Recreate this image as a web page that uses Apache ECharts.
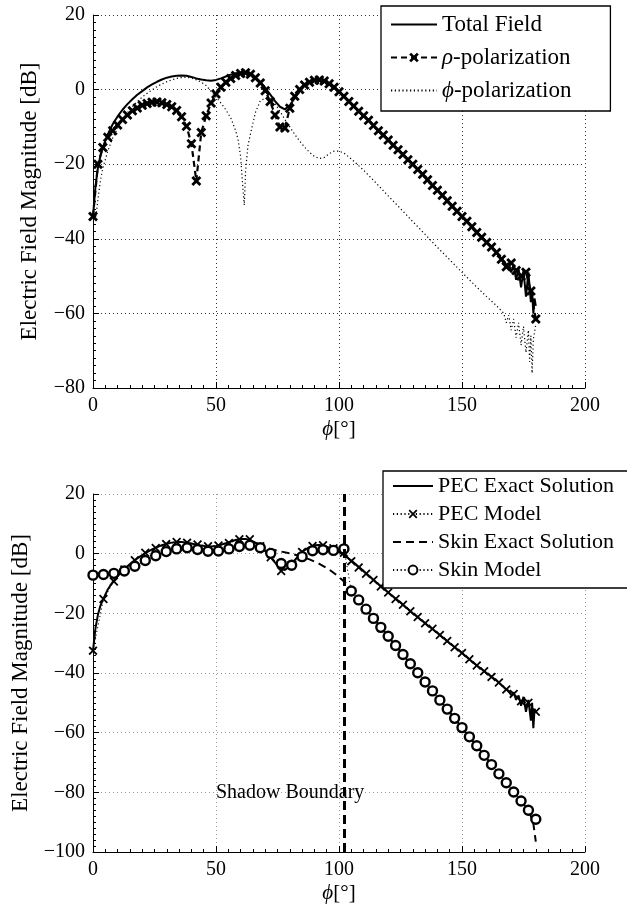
<!DOCTYPE html>
<html><head><meta charset="utf-8">
<script src="https://cdn.jsdelivr.net/npm/echarts@6/dist/echarts.min.js"></script>
<style>html,body{margin:0;padding:0;background:#fff}#c{width:627px;height:911px}</style>
</head><body><div id="c"></div>
<script>
// ---------- tick definitions ----------
const xTicks = [0, 50, 100, 150, 200];
const yTicksTop = [-80, -60, -40, -20, 0, 20];
const yTicksBottom = [-100, -80, -60, -40, -20, 0, 20];

// ---------- top chart: Total Field ----------
const totPhi = [0,1,2,3,4,6,8,10,12,14,16,18,20,22,24,26,28,30,32,34,36,38,40,42,44,46,48,50,52,54,56,58,60,62,64,66,68,70,72,74,76,78,80,82,84,86,88,90,92,94,96,98,100,105,110,115,120,125,130,135,140,145,150,155,158,160,163,165,167,168,169,170,171,172,173,174,175,176,177,177.5,178,178.5,179,179.5,180];
const totDb = [-34,-26,-21,-17.8,-15.5,-12,-9.3,-7.2,-5.4,-3.9,-2.6,-1.4,-0.4,0.6,1.4,2.1,2.7,3.2,3.5,3.7,3.8,3.7,3.4,3.0,2.7,2.5,2.4,2.6,3.0,3.5,4.0,4.4,4.6,4.5,4.1,3.3,2.1,0.5,-1.3,-3.1,-4.6,-5.3,-4.2,-2.3,-0.5,1.0,2.0,2.6,2.7,2.4,1.7,0.6,-0.6,-3.8,-7,-10.2,-13.5,-16.9,-20,-23.6,-27,-30.4,-34,-37.4,-39.5,-41,-43,-44.5,-46,-47,-46.5,-49,-47,-51,-48,-53,-48.5,-55.5,-49,-48.5,-57,-54,-60,-56,-58];

// ---------- top chart: rho-polarization ----------
const rhoPhi = [0,2,4,6,8,10,12,14,16,18,20,22,24,26,28,30,32,34,36,38,40,42,44,46,48,50,52,54,56,58,60,62,64,66,68,70,72,74,76,78,80,82,84,86,88,90,92,94,96,98,100,102,104,106,108,110,112,114,116,118,120,122,124,126,128,130,132,134,136,138,140,142,144,146,148,150,152,154,156,158,160,162,164,166,168,170,172,174,176,178,180];
const rhoDb = [-34,-20,-15.5,-12.8,-11,-9.5,-8,-6.8,-5.7,-4.9,-4.2,-3.7,-3.4,-3.3,-3.5,-4,-4.6,-5.6,-7.3,-9.8,-14.5,-24.5,-11.5,-7,-3.6,-1.2,0.6,2.0,3.0,3.8,4.3,4.5,4.1,3.2,1.8,-0.3,-3.2,-6.8,-10,-10.3,-5,-1.8,0,1.2,2.0,2.5,2.6,2.3,1.6,0.6,-0.6,-1.8,-3.2,-4.4,-5.8,-7,-8.2,-9.6,-11,-12.2,-13.5,-14.9,-16.1,-17.4,-18.8,-20,-21.4,-22.7,-24.2,-25.7,-27,-28.3,-29.8,-31.3,-32.6,-34,-35.3,-36.8,-38.3,-39.6,-41,-42.2,-43.7,-45.5,-47.5,-46.5,-48.5,-50,-49,-54,-61.5];

// ---------- top chart: phi-polarization ----------
const phPhi = [1,2,3,4,6,8,10,12,14,16,18,20,22,24,26,28,30,32,34,36,38,40,42,44,46,48,50,52,54,56,58,59,60,61,61.5,62,63,64,66,68,70,72,74,76,78,80,82,84,86,88,90,92,94,96,98,100,102,105,110,115,120,125,130,135,140,145,150,155,160,163,165,167,168,169,170,171,172,173,174,175,176,177,177.5,178,178.5,179,180];
const phDb = [-35,-29.5,-24.5,-21,-16.5,-13,-10.3,-8,-6.2,-4.6,-3.2,-2.0,-1.0,-0.1,0.8,1.5,2.1,2.6,3.0,3.2,3.3,3.1,2.6,2.0,1.1,-0.5,-2.0,-3.6,-5.4,-7.6,-11,-13.5,-18,-27,-31,-22,-15,-11.9,-6.2,-3.0,-2.3,-2.4,-3.8,-5.8,-8,-10,-12,-13.8,-15.4,-16.8,-17.9,-18.5,-18.2,-17.2,-16.5,-16.5,-17,-18.6,-21.6,-25,-28.5,-31.9,-35.4,-38.8,-42.3,-45.6,-49,-52.3,-55.5,-57.3,-58.6,-60,-62.5,-60.5,-64.5,-61.5,-66.5,-62.5,-68.5,-63.5,-70.5,-64.5,-73,-66,-76,-67,-63];

// ---------- bottom chart: PEC Exact Solution ----------
const pecPhi = [0,1,2,3,4,6,8,10,12,14,16,18,20,22,24,26,28,30,32,34,36,38,40,42,44,46,48,50,52,54,56,58,60,62,64,66,68,70,72,74,76,78,80,82,84,86,88,90,92,94,96,98,100,102,104,106,108,110,115,120,125,130,135,140,145,150,155,160,164,166,168,169,170,171,172,173,174,175,176,177,178,178.5,179,179.5,180];
const pecDb = [-32.5,-25,-20.5,-17.5,-15.5,-12,-9.5,-7.5,-5.7,-4.2,-2.8,-1.6,-0.5,0.5,1.4,2.2,2.8,3.3,3.7,3.9,3.9,3.7,3.4,3.0,2.7,2.5,2.4,2.6,3.0,3.5,4.1,4.6,4.9,4.9,4.5,3.7,2.5,0.9,-1.0,-3.0,-4.8,-5.5,-4.2,-2.2,-0.3,1.2,2.2,2.8,2.9,2.6,2.0,1.3,0.5,-0.5,-1.7,-3.0,-4.4,-5.8,-9.5,-13,-16.4,-20,-23.3,-26.6,-30,-33.3,-36.8,-40,-42.5,-44,-45.5,-46,-47.5,-46.5,-49,-47.5,-51,-48,-53,-49,-56,-50,-58.5,-52,-53];

// ---------- bottom chart: model sample points (PEC Model and Skin Model) ----------
const modelPhi = [0,4.25,8.5,12.75,17,21.25,25.5,29.75,34,38.25,42.5,46.75,51,55.25,59.5,63.75,68,72.25,76.5,80.75,85,89.25,93.5,97.75,102,105,108,111,114,117,120,123,126,129,132,135,138,141,144,147,150,153,156,159,162,165,168,171,174,177,180];
const pecModelDb = [-32.5,-15.2,-9.3,-5.3,-2.2,0.3,1.9,3.2,3.9,3.7,3.1,2.5,2.7,3.6,4.8,4.8,2.5,-1.2,-5.8,-3.8,0.6,2.6,2.8,1.8,0.3,-2.5,-4.6,-6.7,-8.8,-11,-13,-15.2,-17.1,-19.3,-21.2,-23.3,-25.2,-27.3,-29.3,-31.4,-33.3,-35.4,-37.5,-39.4,-41.3,-43.2,-45.5,-47,-49.5,-50,-53];
const skinModelDb = [-7.2,-7.0,-6.6,-5.8,-4.2,-2.3,-0.7,0.7,1.6,2.0,1.4,0.8,0.9,1.6,2.4,2.8,2.0,0.1,-3.3,-3.9,-1.0,1.0,1.3,1.1,1.6,-12.5,-15.5,-18.6,-21.7,-24.7,-27.7,-30.8,-33.8,-36.9,-39.9,-43,-46,-49.1,-52.1,-55.2,-58.3,-61.4,-64.4,-67.6,-70.7,-73.8,-76.8,-79.9,-82.9,-86,-89];

// ---------- bottom chart: Skin Exact Solution ----------
const skPhi = [0,4,8,12,16,20,24,28,32,36,40,44,48,52,56,60,64,68,72,76,80,84,88,92,96,100,102,104,106,110,120,130,140,150,160,170,174,176,177,178,179,179.5,180];
const skDb = [-7.2,-7.0,-6.6,-5.9,-4.6,-2.8,-1.2,0.2,1.3,1.9,1.8,1.1,0.8,1.0,1.7,2.4,2.7,2.4,1.6,0.8,0.1,-0.8,-1.9,-3.4,-5.3,-7.8,-9.3,-11,-13,-17.6,-27.7,-37.9,-48,-58.3,-68.6,-78.8,-82.9,-85,-86.3,-88,-90.5,-93.5,-96.5];

// ---------- annotation ----------
const shadowBoundaryPhi = 102;
const shadowLabel = 'Shadow Boundary';
const shadowLabelPos = [50, -80];

const FONT = 'Liberation Serif';
const pairs = (xs, ys) => xs.map((x, i) => [x, ys[i]]);
const fmt = v => (v < 0 ? '\u2212' + Math.abs(v) : String(v));

const X_BOLD = 'path://M0,2 L2,0 L5,3 L8,0 L10,2 L7,5 L10,8 L8,10 L5,7 L2,10 L0,8 L3,5 Z';
const X_THIN = 'path://M0,1.4 L1.4,0 L5,3.6 L8.6,0 L10,1.4 L6.4,5 L10,8.6 L8.6,10 L5,6.4 L1.4,10 L0,8.6 L3.6,5 Z';

function xAxisCfg(gridIndex, gridColor) {
  return {
    type: 'value', gridIndex, min: xTicks[0], max: xTicks[xTicks.length - 1],
    interval: xTicks[1] - xTicks[0],
    name: '{i|ϕ}[°]', nameLocation: 'middle', nameGap: 31,
    nameTextStyle: { fontFamily: FONT, fontSize: 21, color: '#000',
      rich: { i: { fontFamily: FONT, fontSize: 21, fontStyle: 'italic', color: '#000' } } },
    axisLine: { show: true, onZero: false, lineStyle: { color: '#000', width: 1 } },
    axisTick: { show: true, inside: true, length: 6, lineStyle: { color: '#000' } },
    minorTick: { show: true, splitNumber: 10, length: 3, lineStyle: { color: '#000' } },
    axisLabel: { color: '#000', fontFamily: FONT, fontSize: 20, margin: 8, formatter: fmt },
    splitLine: { show: true, lineStyle: { color: gridColor, type: [1, 3], width: 1 } }
  };
}
function yAxisCfg(gridIndex, ticks, gridColor) {
  return {
    type: 'value', gridIndex, min: ticks[0], max: ticks[ticks.length - 1],
    interval: ticks[1] - ticks[0],
    name: 'Electric Field Magnitude [dB]', nameLocation: 'middle', nameGap: 52,
    nameTextStyle: { fontFamily: FONT, fontSize: 23, color: '#000' },
    axisLine: { show: true, onZero: false, lineStyle: { color: '#000', width: 1 } },
    axisTick: { show: true, inside: true, length: 6, lineStyle: { color: '#000' } },
    minorTick: { show: true, splitNumber: 10, length: 3, lineStyle: { color: '#000' } },
    axisLabel: { color: '#000', fontFamily: FONT, fontSize: 20, margin: 8, formatter: fmt },
    splitLine: { show: true, lineStyle: { color: gridColor, type: [1, 3], width: 1 } }
  };
}
const legendText = name => {
  if (name.charAt(0) === 'ρ' || name.charAt(0) === 'ϕ') return '{i|' + name.charAt(0) + '}' + name.slice(1);
  return name;
};
const noMark = { opacity: 0 };

const chart = echarts.init(document.getElementById('c'), null, { renderer: 'canvas' });
chart.setOption({
  animation: false,
  backgroundColor: '#fff',
  grid: [
    { left: 93, top: 15, width: 492, height: 373, outerBoundsMode: 'none' },
    { left: 93, top: 494, width: 492, height: 358, outerBoundsMode: 'none' }
  ],
  xAxis: [xAxisCfg(0, '#333'), xAxisCfg(1, '#999')],
  yAxis: [yAxisCfg(0, yTicksTop, '#333'), yAxisCfg(1, yTicksBottom, '#999')],
  legend: [
    {
      data: [
        { name: 'Total Field', itemStyle: noMark },
        { name: 'ρ-polarization' },
        { name: 'ϕ-polarization', itemStyle: noMark }
      ],
      orient: 'vertical', left: 381, top: 6,
      padding: [7, 39, 9, 9], itemGap: 10, itemWidth: 46, itemHeight: 12,
      backgroundColor: '#fff', borderColor: '#000', borderWidth: 1.3, borderRadius: 0,
      formatter: legendText,
      textStyle: { fontFamily: FONT, fontSize: 23, color: '#000', lineHeight: 23,
        rich: { i: { fontFamily: FONT, fontSize: 23, fontStyle: 'italic', color: '#000' } } },
      selectedMode: false
    },
    {
      data: [
        { name: 'PEC Exact Solution', itemStyle: noMark },
        { name: 'PEC Model' },
        { name: 'Skin Exact Solution', itemStyle: noMark },
        { name: 'Skin Model' }
      ],
      orient: 'vertical', left: 383, top: 471,
      padding: [4, 30, 7, 9], itemGap: 6, itemWidth: 40, itemHeight: 11,
      backgroundColor: '#fff', borderColor: '#000', borderWidth: 1.3, borderRadius: 0,
      textStyle: { fontFamily: FONT, fontSize: 22, color: '#000', lineHeight: 22 },
      selectedMode: false
    }
  ],
  series: [
    { name: 'Total Field', type: 'line', xAxisIndex: 0, yAxisIndex: 0,
      data: pairs(totPhi, totDb), symbol: 'none', showSymbol: false,
      lineStyle: { color: '#000', width: 2 }, itemStyle: { color: '#000' } },
    { name: 'ρ-polarization', type: 'line', xAxisIndex: 0, yAxisIndex: 0,
      data: pairs(rhoPhi, rhoDb), symbol: X_BOLD, symbolSize: 10,
      lineStyle: { color: '#000', width: 2.2, type: [6, 4] }, itemStyle: { color: '#000' } },
    { name: 'ϕ-polarization', type: 'line', xAxisIndex: 0, yAxisIndex: 0,
      data: pairs(phPhi, phDb), symbol: 'none', showSymbol: false,
      lineStyle: { color: '#000', width: 1.2, type: [1.2, 2.6] }, itemStyle: { color: '#000' } },

    { name: 'PEC Exact Solution', type: 'line', xAxisIndex: 1, yAxisIndex: 1,
      data: pairs(pecPhi, pecDb), symbol: 'none', showSymbol: false,
      lineStyle: { color: '#000', width: 2 }, itemStyle: { color: '#000' } },
    { name: 'PEC Model', type: 'line', xAxisIndex: 1, yAxisIndex: 1,
      data: pairs(modelPhi, pecModelDb), symbol: X_THIN, symbolSize: 9,
      lineStyle: { color: '#000', width: 1, type: [1.2, 2.6] }, itemStyle: { color: '#000' } },
    { name: 'Skin Exact Solution', type: 'line', xAxisIndex: 1, yAxisIndex: 1,
      data: pairs(skPhi, skDb), symbol: 'none', showSymbol: false,
      lineStyle: { color: '#000', width: 2, type: [8, 5] }, itemStyle: { color: '#000' },
      markLine: { silent: true, symbol: ['none', 'none'], label: { show: false },
        lineStyle: { color: '#000', width: 3, type: [9, 5] },
        data: [{ xAxis: shadowBoundaryPhi }] } },
    { name: 'Skin Model', type: 'line', xAxisIndex: 1, yAxisIndex: 1,
      data: pairs(modelPhi, skinModelDb), symbol: 'circle', symbolSize: 9,
      lineStyle: { color: '#000', width: 1, type: [1.2, 2.6] },
      itemStyle: { color: '#fff', borderColor: '#000', borderWidth: 2.4 } },
    { name: 'annot', type: 'scatter', xAxisIndex: 1, yAxisIndex: 1,
      data: [shadowLabelPos], symbolSize: 0, silent: true, z: 10,
      itemStyle: { opacity: 1 },
      label: { show: true, position: 'right', distance: 0, formatter: shadowLabel,
        fontFamily: FONT, fontSize: 20, color: '#000', opacity: 1, textBorderWidth: 0 } }
  ]
});
</script>
</body></html>
